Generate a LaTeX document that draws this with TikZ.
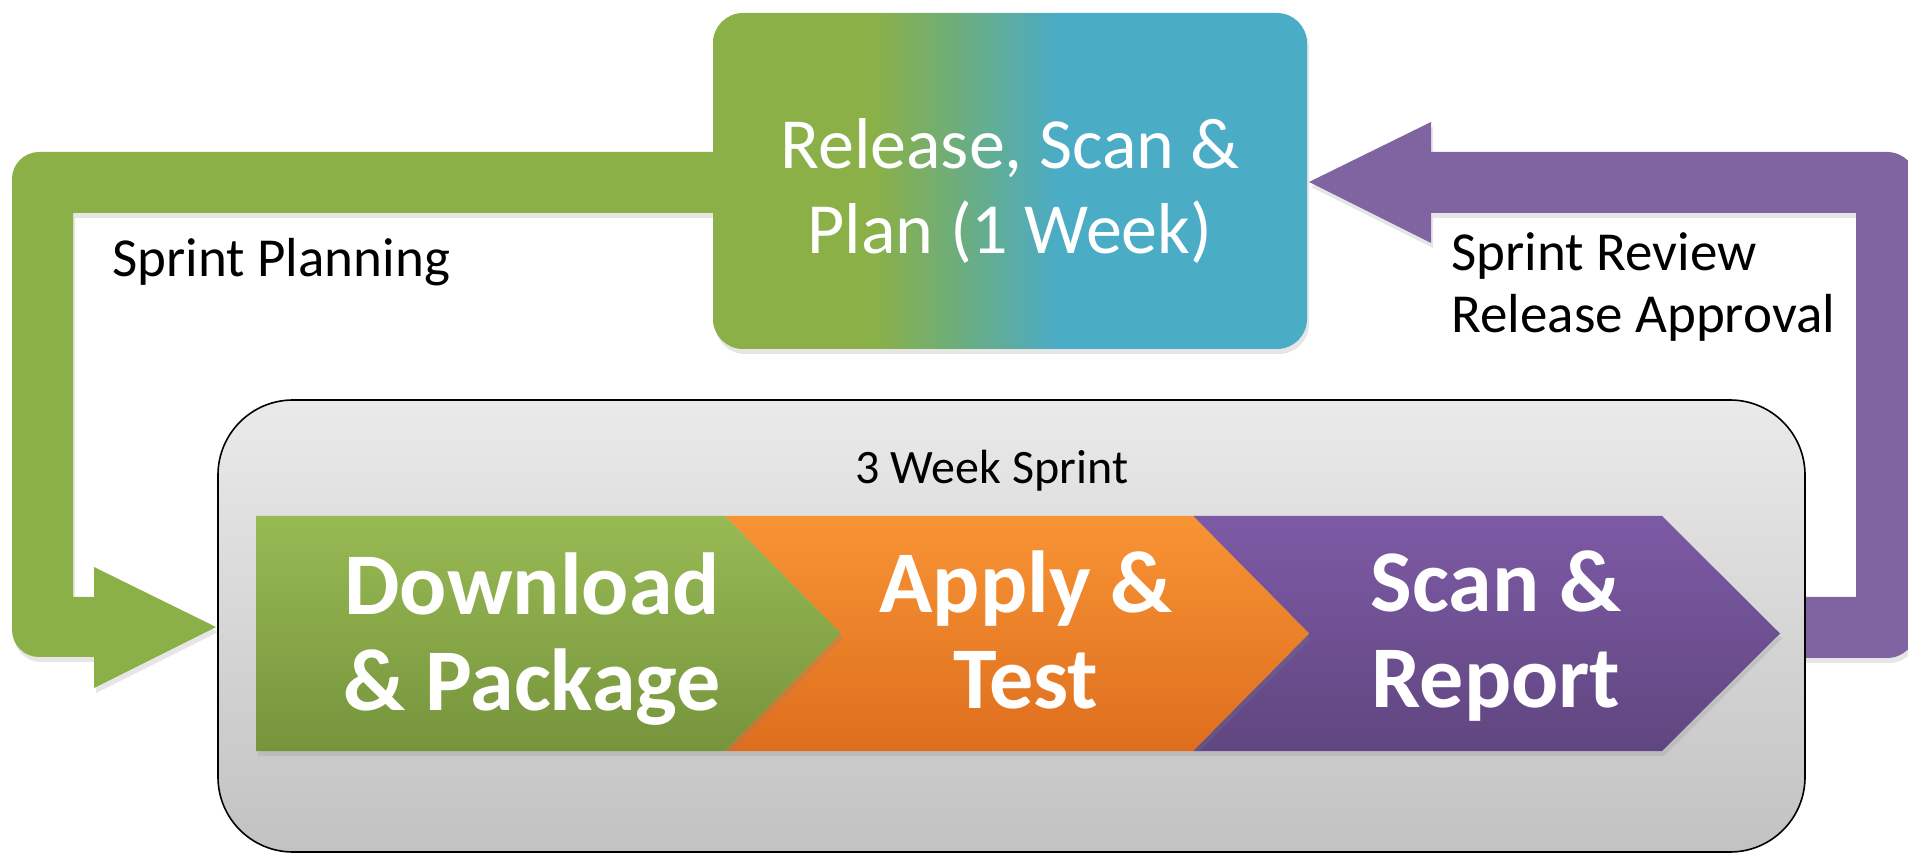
\documentclass[tikz,border=0pt]{standalone}
\usepackage{fontspec}
\setmainfont{Carlito}
\usetikzlibrary{shadows}
\definecolor{arrgreen}{RGB}{140,176,72}
\definecolor{arrpurple}{RGB}{128,100,162}
\definecolor{relgreen}{RGB}{139,176,71}
\definecolor{relmid}{RGB}{107,173,128}
\definecolor{relblue}{RGB}{75,172,198}
\definecolor{grntop}{RGB}{152,186,84}
\definecolor{grnbot}{RGB}{118,148,60}
\definecolor{orgtop}{RGB}{248,148,52}
\definecolor{orgbot}{RGB}{222,110,30}
\definecolor{purtop}{RGB}{125,90,165}
\definecolor{purbot}{RGB}{96,70,128}
\definecolor{graytop}{RGB}{234,234,234}
\definecolor{graybot}{RGB}{194,194,194}
\pgfdeclarehorizontalshading{relshade}{100bp}{color(0bp)=(relgreen); color(38.5bp)=(relgreen); color(46bp)=(relmid); color(54bp)=(relblue); color(100bp)=(relblue)}
\tikzset{
  softshadow/.style={drop shadow={opacity=0.2, shadow xshift=1pt, shadow yshift=-2.5pt}},
  blockarrow/.style={draw=none, softshadow},
  relbox/.style={rectangle, rounded corners=15pt, minimum width=297pt, minimum height=168pt,
    shading=relshade, inner sep=0pt, softshadow},
  reltext/.style={text=white, align=center, inner sep=0pt, font=\fontsize{36}{42.5}\selectfont},
  sprintbox/.style={rectangle, rounded corners=37.5pt, minimum width=793.5pt, minimum height=226pt,
    draw=black, line width=0.8pt, top color=graytop, bottom color=graybot},
  chev/.style={draw=none, softshadow},
  chevtext/.style={text=white, align=center, inner sep=0pt, font=\bfseries\fontsize{44}{48}\selectfont},
  plain/.style={text=black, inner sep=0pt, font=\fontsize{27.5}{31}\selectfont}
}
\begin{document}
\begin{tikzpicture}[x=0.5pt,y=-0.5pt]
\useasboundingbox (0,0) rectangle (1908,855);
\clip (0,0) rectangle (1908,855);

\coordinate (relc) at (1010,181);
\coordinate (gstart) at (740,152);
\coordinate (pend) at (1309,182);

% green block arrow: rel -> sprint
\fill[arrgreen, blockarrow] (gstart)
  [rounded corners=13.5pt] -- (12,152) -- (12,657) [sharp corners] -- (94,657) -- (94,688)
  -- (216,627) -- (94,567) -- (94,597) -- (73,597) -- (73,213) -- (gstart |- 0,213) -- cycle;

% purple block arrow: sprint -> rel
\fill[arrpurple, blockarrow] (1780,597) -- (1856,597) -- (1856,213) -- (1431,213) -- (1431,243)
  -- (pend) -- (1431,122) -- (1431,152)
  [rounded corners=15pt] -- (1917,152) -- (1917,658) [sharp corners] -- (1780,658) -- cycle;

% top box
\node[relbox] (rel) at (relc) {};
\node[reltext] (reltxt) at ([yshift=-5pt]rel.center) {Release, Scan \&\\Plan (1 Week)};

\node[sprintbox] (sprint) at (1011.5,626) {};

\node[plain, anchor=west] (plan) at (112,262) {Sprint Planning};
\node[plain, anchor=west, align=left] (review) at (1451,287) {Sprint Review\\Release Approval};
\node[plain, font=\fontsize{24}{28}\selectfont] (wk) at (992,471) {3 Week Sprint};

% chevrons
\path[chev, top color=purtop, bottom color=purbot]
  (1193,516) -- (1662,516) -- (1780,633.5) -- (1662,751) -- (1193,751) -- (1309,633.5) -- cycle;
\path[chev, top color=orgtop, bottom color=orgbot]
  (725,516) -- (1193,516) -- (1309,633.5) -- (1193,751) -- (725,751) -- (841,633.5) -- cycle;
\path[chev, top color=grntop, bottom color=grnbot]
  (256,516) -- (725,516) -- (841,633.5) -- (725,751) -- (256,751) -- cycle;

\node[chevtext] (dl) at (532,639) {Download\\\& Package};
\node[chevtext] (at) at (1026,630) {Apply \&\\Test};
\node[chevtext] (sr) at (1496,636) {Scan \&\\Report};
\end{tikzpicture}
\end{document}
